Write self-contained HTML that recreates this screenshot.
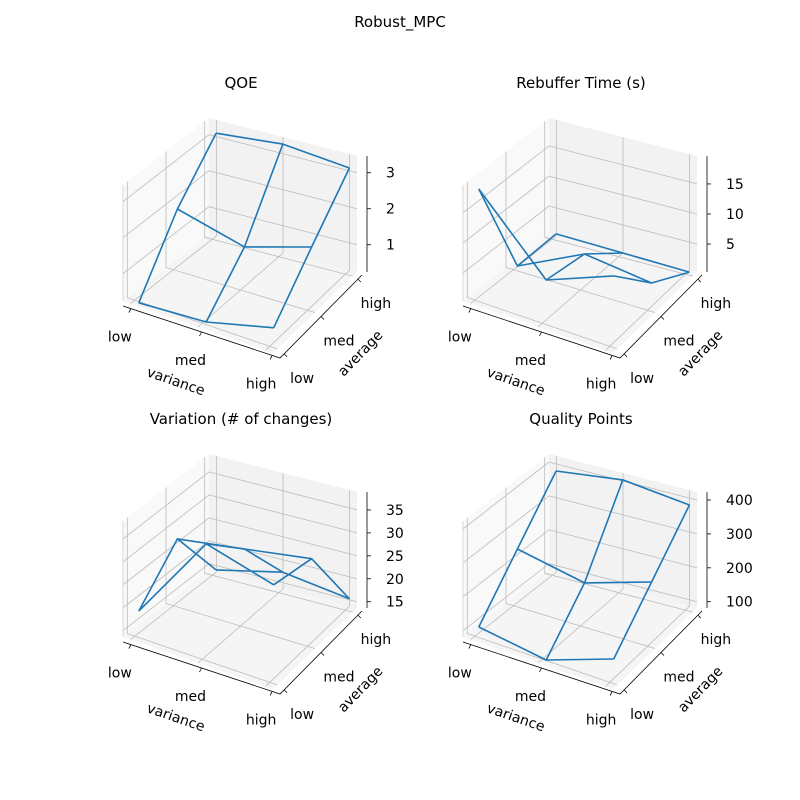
<!DOCTYPE html>
<html><head><meta charset="utf-8"><style>
html,body{margin:0;padding:0;background:#fff}
svg{display:block}
text{font-family:"DejaVu Sans","Liberation Sans",sans-serif;fill:#000}
</style></head><body>
<svg id="fig" width="800" height="800" viewBox="0 0 800 800" xmlns="http://www.w3.org/2000/svg">
<text x="400" y="27" font-size="15" text-anchor="middle">Robust_MPC</text>
</svg>
<script>
// categories
const varianceLabels = ["low","med","high"];
const averageLabels = ["low","med","high"];
// series values: rows = average (low,med,high), cols = variance (low,med,high)
const qoeValues = [[0.17,0.28,0.76],[1.93,1.44,2.00],[3.19,3.37,3.19]];
const rebufferValues = [[18.86,7.55,12.07],[0.97,6.33,4.88],[1.24,0.97,0.69]];
const variationValues = [[19.1,38.8,34.9],[28.2,30.4,32.7],[14.8,18.1,16.1]];
const qualityValues = [[108.6,79.5,150.6],[248.8,208.5,271.1],[389.1,414.1,391.5]];
// z tick labels
const qoeTicks = [1,2,3];
const rebufferTicks = [5,10,15];
const variationTicks = [15,20,25,30,35];
const qualityTicks = [100,200,300,400];
// z ranges
const qoeRange = [0.243,3.464];
const rebufferRange = [0.347,19.65];
const variationRange = [13.63,38.91];
const qualityRange = [81.5,423.6];

const NS="http://www.w3.org/2000/svg";
const svg=document.getElementById('fig');
function mk(tag,attrs,parent){const e=document.createElementNS(NS,tag);for(const k in attrs)e.setAttribute(k,attrs[k]);(parent||svg).appendChild(e);return e;}

const A=[123,301],B=[273,353],C=[357,272],D=[209,234],H=116,M=0.05;
function floorPt(u,v){
  const x=A[0]*(1-u)*(1-v)+B[0]*u*(1-v)+C[0]*u*v+D[0]*(1-u)*v;
  const y=A[1]*(1-u)*(1-v)+B[1]*u*(1-v)+C[1]*u*v+D[1]*(1-u)*v;
  return [x,y];
}
function catPos(i){return M+i*(1-2*M)/2;}

function drawPanel(name,title,ox,oy,values,ticks,range){
  const g=mk('g',{transform:`translate(${ox},${oy})`});
  
  
  const P=(u,v,zn)=>{const f=floorPt(u,v);return [f[0],f[1]-H*zn];};
  const zn=z=>(z-range[0])/(range[1]-range[0]);
  const pts=a=>a.map(p=>p[0].toFixed(1)+','+p[1].toFixed(1)).join(' ');
  const lp=mk('polygon',{points:pts([P(0,0,0),P(0,1,0),P(0,1,1),P(0,0,1)]),fill:'#f9f9f9'},g);
  
  const bp=mk('polygon',{points:pts([P(0,1,0),P(1,1,0),P(1,1,1),P(0,1,1)]),fill:'#f2f2f2'},g);
  
  const fp=mk('polygon',{points:pts([P(0,0,0),P(1,0,0),P(1,1,0),P(0,1,0)]),fill:'#f5f5f5'},g);
  
  const gs={stroke:'#bcbcbc','stroke-width':0.8,fill:'none'};
  for(let i=0;i<3;i++){
    const u=catPos(i);
    const l=mk('polyline',Object.assign({points:pts([P(u,0,0),P(u,1,0),P(u,1,1)])},gs),g);
    
    const v=catPos(i);
    const l2=mk('polyline',Object.assign({points:pts([P(0,v,1),P(0,v,0),P(1,v,0)])},gs),g);
    
  }
  ticks.forEach(t=>{
    const z=zn(t);
    const l=mk('polyline',Object.assign({points:pts([P(0,0,z),P(0,1,z),P(1,1,z)])},gs),g);
    
  });
  const pe=mk('polyline',{points:pts([P(0,0,0),P(0,0,1)]),stroke:'#d0d0d0','stroke-width':0.8,fill:'none'},g);
  
  const X0=[123,306],X1=[280,358],Y1=[362,275],ZX=367,Z0=272,Z1=156;
  const ax=mk('polyline',{points:pts([X0,X1,Y1]),stroke:'#000','stroke-width':0.8,fill:'none'},g);
  
  const az=mk('line',{x1:ZX,y1:Z0,x2:ZX,y2:Z1,stroke:'#000','stroke-width':0.8},g);
  
  varianceLabels.forEach((lab,i)=>{
    const u=catPos(i);const x=X0[0]+(X1[0]-X0[0])*u,y=X0[1]+(X1[1]-X0[1])*u;
    const tk=mk('line',{x1:x,y1:y,x2:x-2,y2:y+4,stroke:'#000','stroke-width':0.8},g);
    
    const t=mk('text',{x:x-11,y:y+33,'font-size':14,'text-anchor':'middle'},g);t.textContent=lab;
    
  });
  averageLabels.forEach((lab,i)=>{
    const v=catPos(i);const x=X1[0]+(Y1[0]-X1[0])*v,y=X1[1]+(Y1[1]-X1[1])*v;
    const tk=mk('line',{x1:x,y1:y,x2:x+3,y2:y+3,stroke:'#000','stroke-width':0.8},g);
    
    const t=mk('text',{x:x+18,y:y+29,'font-size':14,'text-anchor':'middle'},g);t.textContent=lab;
    
  });
  ticks.forEach(tv=>{
    const y=Z0-(Z0-Z1)*zn(tv);
    const tk=mk('line',{x1:ZX,y1:y,x2:ZX+4,y2:y,stroke:'#000','stroke-width':0.8},g);
    
    const t=mk('text',{x:ZX+19,y:y+5,'font-size':14},g);t.textContent=String(tv);
    
  });
  const xl=mk('text',{x:176,y:386,'font-size':14,'text-anchor':'middle',transform:'rotate(19 176 381)'},g);
  xl.textContent='variance';
  const yl=mk('text',{x:360,y:358,'font-size':14,'text-anchor':'middle',transform:'rotate(-46 360 353)'},g);
  yl.textContent='average';
  const tt=mk('text',{x:241,y:88,'font-size':15,'text-anchor':'middle'},g);
  tt.textContent=title;
  const DX=4;
  const Q=(i,j)=>{const p=P(catPos(i),catPos(j),zn(values[j][i]));return [p[0]+DX,p[1]];};
  for(let j=0;j<3;j++){
    const r=mk('polyline',{points:pts([0,1,2].map(i=>Q(i,j))),stroke:'#1f77b4','stroke-width':1.6,fill:'none','stroke-linejoin':'round'},g);
    
  }
  for(let i=0;i<3;i++){
    const c=mk('polyline',{points:pts([0,1,2].map(j=>Q(i,j))),stroke:'#1f77b4','stroke-width':1.6,fill:'none','stroke-linejoin':'round'},g);
    
  }
}
drawPanel('qoe','QOE',0,0,qoeValues,qoeTicks,qoeRange);
drawPanel('rebuffer','Rebuffer Time (s)',340,0,rebufferValues,rebufferTicks,rebufferRange);
drawPanel('variation','Variation (# of changes)',0,336,variationValues,variationTicks,variationRange);
drawPanel('quality','Quality Points',340,336,qualityValues,qualityTicks,qualityRange);
</script>
</body></html>
